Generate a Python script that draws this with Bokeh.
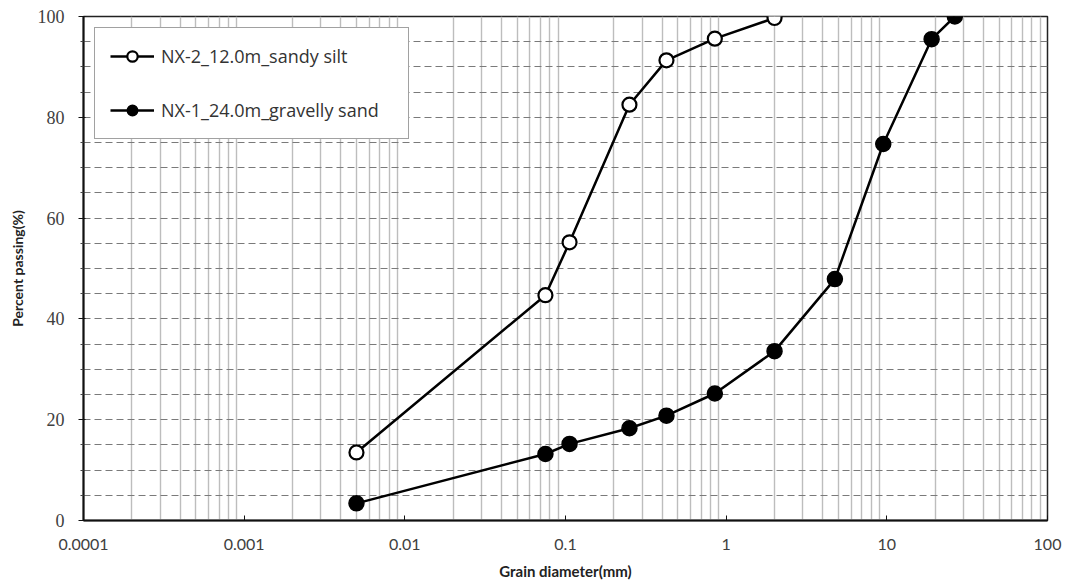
from bokeh.plotting import figure
from bokeh.models import FixedTicker, CustomJSTickFormatter, Range1d
from bokeh.embed import file_html
from bokeh.resources import INLINE

# ---- data ----
x_tick_labels = ["0.0001", "0.001", "0.01", "0.1", "1", "10", "100"]
y_major = [0, 20, 40, 60, 80, 100]
y_minor = [5, 10, 15, 25, 30, 35, 45, 50, 55, 65, 70, 75, 85, 90, 95]

nx2_label = "NX-2_12.0m_sandy silt"
nx2_d = [0.005, 0.075, 0.106, 0.25, 0.425, 0.85, 2.0]
nx2_p = [13.5, 44.7, 55.2, 82.5, 91.3, 95.6, 99.7]

nx1_label = "NX-1_24.0m_gravelly sand"
nx1_d = [0.005, 0.075, 0.106, 0.25, 0.425, 0.85, 2.0, 4.75, 9.5, 19.0, 26.5]
nx1_p = [3.4, 13.2, 15.2, 18.3, 20.8, 25.2, 33.6, 47.9, 74.7, 95.5, 100.0]

x_ticks = [float(s) for s in x_tick_labels]
x_minor = [k * t for t in x_ticks[:-1] for k in range(2, 10)]

p = figure(width=1068, height=587, x_axis_type="log",
           x_range=Range1d(x_ticks[0], x_ticks[-1]), y_range=Range1d(0, 100),
           output_backend="svg", toolbar_location=None,
           min_border_left=83, min_border_right=21, min_border_top=16, min_border_bottom=67)
p.background_fill_color = "white"
p.border_fill_color = "white"
p.outline_line_color = "#222222"
p.outline_line_width = 1.5

# grids
p.xgrid.ticker = FixedTicker(ticks=x_minor)
p.xgrid.grid_line_color = "#bdbdbd"
p.xgrid.grid_line_width = 1.4
p.ygrid.ticker = FixedTicker(ticks=y_minor + [20, 40, 60, 80])
p.ygrid.grid_line_color = "#7a7a7a"
p.ygrid.grid_line_width = 1.1
p.ygrid.grid_line_dash = "7 4"

# x axis
p.xaxis.ticker = FixedTicker(ticks=x_ticks, minor_ticks=[])
p.xaxis.formatter = CustomJSTickFormatter(code="return tick.toString();")
p.xaxis.major_tick_in = 5
p.xaxis.major_tick_out = 0
p.xaxis.minor_tick_line_color = None
p.xaxis.axis_line_width = 2
p.xaxis.axis_line_color = "#111111"
p.xaxis.major_tick_line_color = "#111111"
p.xaxis.major_label_text_font = "Lato"
p.xaxis.major_label_text_font_size = "16px"
p.xaxis.major_label_text_color = "#404040"
p.xaxis.major_label_standoff = 18
p.xaxis.axis_label = "Grain diameter(mm)"
p.xaxis.axis_label_text_font = "Lato"
p.xaxis.axis_label_text_font_style = "bold"
p.xaxis.axis_label_text_font_size = "15px"
p.xaxis.axis_label_text_color = "#222222"
p.xaxis.axis_label_standoff = 9

# y axis
p.yaxis.ticker = FixedTicker(ticks=y_major, minor_ticks=y_minor)
p.yaxis.major_tick_in = 2
p.yaxis.major_tick_out = 5
p.yaxis.minor_tick_in = 0
p.yaxis.minor_tick_out = 3
p.yaxis.axis_line_width = 2
p.yaxis.axis_line_color = "#111111"
p.yaxis.major_tick_line_color = "#111111"
p.yaxis.minor_tick_line_color = "#444444"
p.yaxis.major_label_text_font = "Liberation Serif"
p.yaxis.major_label_text_font_size = "18px"
p.yaxis.major_label_text_color = "#404040"
p.yaxis.major_label_standoff = 14
p.yaxis.axis_label = "Percent passing(%)"
p.yaxis.axis_label_text_font = "Lato"
p.yaxis.axis_label_text_font_style = "bold"
p.yaxis.axis_label_text_font_size = "14px"
p.yaxis.axis_label_text_color = "#222222"
p.yaxis.axis_label_standoff = 9

# series
p.line(nx2_d, nx2_p, line_color="black", line_width=2.5, legend_label=nx2_label)
p.scatter(nx2_d, nx2_p, marker="circle", size=14, fill_color="white",
          line_color="black", line_width=2.2, legend_label=nx2_label)
p.line(nx1_d, nx1_p, line_color="black", line_width=2.5, legend_label=nx1_label)
p.scatter(nx1_d, nx1_p, marker="circle", size=15, fill_color="black",
          line_color="black", line_width=1.5, legend_label=nx1_label)

lg = p.legend[0]
lg.location = "top_left"
lg.margin = 11
lg.padding = 15
lg.spacing = 28
lg.label_height = 26
lg.glyph_height = 26
lg.glyph_width = 44
lg.label_standoff = 7
lg.label_width = 232
lg.label_text_font = "Open Sans"
lg.label_text_font_size = "18px"
lg.label_text_color = "#333333"
lg.border_line_color = "#444444"
lg.border_line_width = 1
lg.background_fill_color = "white"
lg.background_fill_alpha = 1.0

open("out.html", "w").write(file_html(p, INLINE))
